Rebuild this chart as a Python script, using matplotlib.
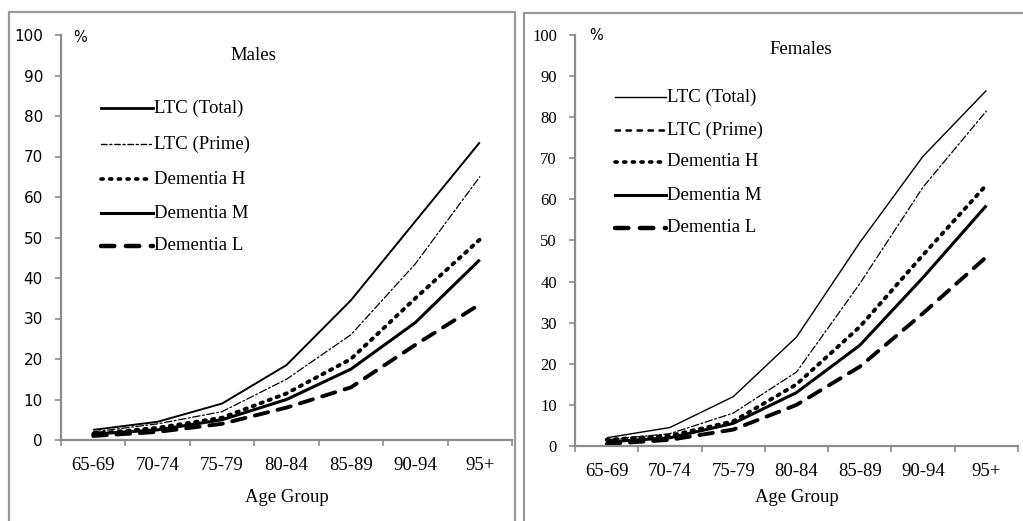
import matplotlib
matplotlib.use("Agg")
import matplotlib.pyplot as plt
from matplotlib.lines import Line2D
from matplotlib.patches import Rectangle

categories = ["65-69", "70-74", "75-79", "80-84", "85-89", "90-94", "95+"]
series_names = ["LTC (Total)", "LTC (Prime)", "Dementia H", "Dementia M", "Dementia L"]

males_total = [2.5, 4.5, 9, 18.5, 34.5, 54, 73.5]
males_prime = [2, 4, 7, 15, 26, 43.5, 65]
males_dem_h = [1.5, 3, 5.5, 11.5, 20, 35, 49.5]
males_dem_m = [1.5, 2.5, 5, 10, 17.5, 29, 44.5]
males_dem_l = [1, 2, 4, 8, 13, 23.5, 33.5]

females_total = [2, 4.5, 12, 26.5, 49.5, 70.5, 86.5]
females_prime = [1.5, 3, 8, 18, 39.5, 63, 81.5]
females_dem_h = [1.5, 2.5, 6, 15, 29, 46.5, 63.5]
females_dem_m = [1, 2, 5.5, 13, 24.5, 41, 58.5]
females_dem_l = [0.5, 1.5, 4, 10, 19.3, 32.3, 46]

yticks = list(range(0, 101, 10))

W, H = 1023, 521
fig = plt.figure(figsize=(W / 100, H / 100), dpi=100)
fig.patch.set_facecolor("white")

def fx(px):
    return px / W

def fy(py):
    return 1 - py / H

serif = "Liberation Serif"
GRAY = "#8c8c8c"
TXT = 13.5

# panel borders
fig.patches.append(Rectangle((fx(9), fy(530)), fx(515 - 9), fy(12) - fy(530),
                             transform=fig.transFigure, fill=False,
                             edgecolor="#9a9a9a", lw=1.6))
fig.patches.append(Rectangle((fx(524), fy(530)), fx(1030 - 524), fy(13) - fy(530),
                             transform=fig.transFigure, fill=False,
                             edgecolor="#9a9a9a", lw=1.6))

m_styles = [
    dict(ls="-", lw=1.4),
    dict(ls=(0, (6, 2, 1.5, 2)), lw=0.9),
    dict(ls=(0, (0.6, 1.6)), lw=2.8),
    dict(ls="-", lw=2.2),
    dict(ls=(0, (3.5, 2.5)), lw=2.8),
]
m_leg_styles = [
    dict(ls="-", lw=2.0),
    dict(ls=(0, (4, 2, 1.5, 2)), lw=1.0),
    dict(ls=(0, (0.6, 1.8)), lw=2.6),
    dict(ls="-", lw=2.2),
    dict(ls=(0, (3, 2.6)), lw=3.2),
]
f_styles = [
    dict(ls="-", lw=1.0),
    dict(ls=(0, (6, 2, 1.5, 2)), lw=0.9),
    dict(ls=(0, (0.6, 1.6)), lw=2.8),
    dict(ls="-", lw=2.2),
    dict(ls=(0, (3.5, 2.5)), lw=2.8),
]
f_leg_styles = [
    dict(ls="-", lw=1.0),
    dict(ls=(0, (1.8, 2.6)), lw=1.8),
    dict(ls=(0, (0.6, 1.8)), lw=2.6),
    dict(ls="-", lw=2.2),
    dict(ls=(0, (3, 2.6)), lw=3.2),
]


def make_panel(rect_px, data, styles, leg_styles, title, title_xy, pct_xy,
               leg_x0, leg_x1, leg_ys, ytick_font, ytick_size, xlab_y):
    x0, x1, ytop, ybot = rect_px
    ax = fig.add_axes([fx(x0), fy(ybot), fx(x1 - x0), fy(ytop) - fy(ybot)])
    xs = list(range(len(categories)))
    for vals, st in zip(data, styles):
        ax.plot(xs, vals, color="black", dash_capstyle="round",
                solid_capstyle="butt", **st)
    ax.set_xlim(-0.5, len(categories) - 0.5)
    ax.set_ylim(0, 100)
    for s in ["top", "right"]:
        ax.spines[s].set_visible(False)
    for s in ["left", "bottom"]:
        ax.spines[s].set_color(GRAY)
        ax.spines[s].set_linewidth(1.6)
    ax.set_yticks(yticks)
    ax.set_yticklabels([str(v) for v in yticks], fontfamily=ytick_font,
                       fontsize=ytick_size)
    ax.tick_params(axis="y", direction="out", length=4, width=1.2,
                   color=GRAY, pad=9)
    ax.set_xticks(xs)
    ax.set_xticklabels(categories, fontfamily=serif, fontsize=TXT)
    ax.tick_params(axis="x", which="major", length=0, pad=12)
    ax.set_xticks([i - 0.5 for i in range(len(categories) + 1)], minor=True)
    ax.tick_params(axis="x", which="minor", direction="out", length=4,
                   width=1.2, color=GRAY)
    ax.patch.set_alpha(0)

    fig.text(fx(title_xy[0]), fy(title_xy[1]), title, fontfamily=serif,
             fontsize=TXT, ha="center", va="center")
    fig.text(fx(pct_xy[0]), fy(pct_xy[1]), "%", fontfamily="DejaVu Sans",
             fontsize=10.5, ha="left", va="center")
    fig.text(fx((x0 + x1) / 2), fy(xlab_y), "Age Group", fontfamily=serif,
             fontsize=TXT, ha="center", va="center")
    for name, st, ly in zip(series_names, leg_styles, leg_ys):
        fig.add_artist(Line2D([fx(leg_x0), fx(leg_x1)], [fy(ly), fy(ly)],
                              color="black", transform=fig.transFigure,
                              dash_capstyle="round", **st))
        fig.text(fx(leg_x1 + 1), fy(ly), name, fontfamily=serif, fontsize=TXT,
                 ha="left", va="center")
    return ax


make_panel((61, 512, 35, 440),
           [males_total, males_prime, males_dem_h, males_dem_m, males_dem_l],
           m_styles, m_leg_styles, "Males", (253, 55), (73, 38),
           101, 153, [108, 144, 179, 213, 246], "DejaVu Sans", 11, 497)

make_panel((575, 1018, 35, 446),
           [females_total, females_prime, females_dem_h, females_dem_m, females_dem_l],
           f_styles, f_leg_styles, "Females", (801, 50), (589, 35),
           615, 666, [97, 130, 162, 195, 228], serif, 12, 497)

fig.savefig("out.png", dpi=100, facecolor="white")
